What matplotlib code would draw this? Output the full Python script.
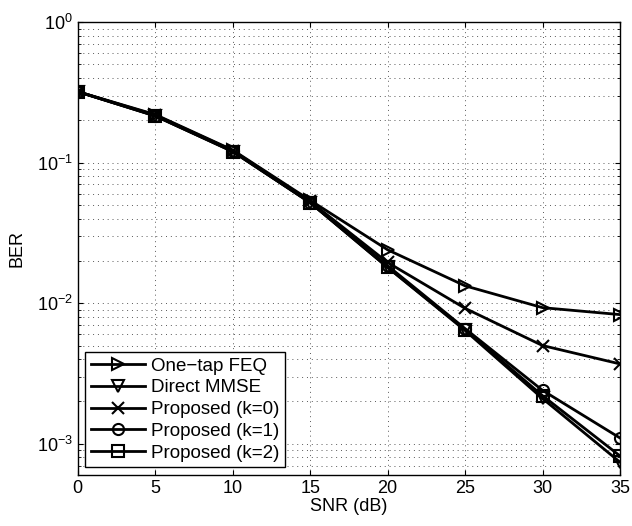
import numpy as np
import matplotlib
matplotlib.use("Agg")
import matplotlib.pyplot as plt

plt.rcParams["font.family"] = ["Liberation Sans", "DejaVu Sans"]
plt.rcParams["mathtext.fontset"] = "custom"
plt.rcParams["mathtext.rm"] = "Liberation Sans"

snr = [0, 5, 10, 15, 20, 25, 30, 35]
one_tap = [0.32, 0.22, 0.123, 0.054, 0.024, 0.0133, 0.0093, 0.0083]
direct = [0.32, 0.215, 0.12, 0.052, 0.018, 0.0064, 0.0021, 0.00074]
prop_k0 = [0.32, 0.218, 0.122, 0.053, 0.0195, 0.0092, 0.0050, 0.0037]
prop_k1 = [0.32, 0.216, 0.121, 0.052, 0.0185, 0.0066, 0.0024, 0.0011]
prop_k2 = [0.32, 0.215, 0.12, 0.052, 0.018, 0.0065, 0.0022, 0.00082]

labels = ["One\u2212tap FEQ", "Direct MMSE", "Proposed (k=0)", "Proposed (k=1)", "Proposed (k=2)"]
markers = [">", "v", "x", "o", "s"]
series = [one_tap, direct, prop_k0, prop_k1, prop_k2]

fig = plt.figure(figsize=(6.32, 5.26), dpi=100)
ax = fig.add_axes([0.123, 0.097, 0.858, 0.861])

for y, m, lab in zip(series, markers, labels):
    ax.semilogy(snr, y, color="black", lw=2, marker=m, ms=8,
                mfc="none", mec="black", mew=1.5, label=lab)

ax.set_xlim(0, 35)
ax.set_ylim(6e-4, 1)
ax.set_xticks(snr)
ax.set_xlabel("SNR (dB)", fontsize=13, labelpad=1)
ax.set_ylabel("BER", fontsize=13, labelpad=8)
ax.grid(True, which="both", linestyle=(0, (1, 4)), color="0.35", lw=0.7)
ax.tick_params(which="both", direction="in", top=True, right=True, labelsize=13)
for s in ax.spines.values():
    s.set_linewidth(1.0)

leg = ax.legend(loc="lower left", fontsize=13.5, fancybox=False, edgecolor="black",
                framealpha=1, borderpad=0.3, labelspacing=0.25, handlelength=2.9,
                handletextpad=0.3, borderaxespad=0.4)
leg.get_frame().set_linewidth(1.0)

fig.savefig("out.png", dpi=100)
